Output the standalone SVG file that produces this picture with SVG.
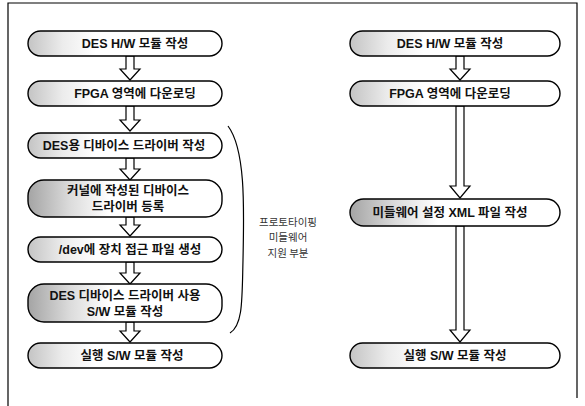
<svg xmlns="http://www.w3.org/2000/svg" width="585" height="406" viewBox="0 0 585 406">
<defs>
<linearGradient id="g1" x1="0" y1="0" x2="1" y2="0">
<stop offset="0" stop-color="#c4c4c4"/>
<stop offset="0.18" stop-color="#ececec"/>
<stop offset="0.35" stop-color="#ffffff"/>
</linearGradient>
<linearGradient id="g2" x1="0" y1="0" x2="1" y2="0">
<stop offset="0" stop-color="#a4a4a4"/>
<stop offset="0.22" stop-color="#dcdcdc"/>
<stop offset="0.42" stop-color="#ffffff"/>
</linearGradient>
</defs>
<style>
.n{fill:url(#g1);stroke:#000;stroke-width:1.4}
.d{fill:url(#g2);stroke:#000;stroke-width:1.4}
.t{font-family:"Liberation Sans","Noto Sans CJK KR",sans-serif;font-size:12.5px;font-weight:bold;fill:#111;text-anchor:middle;dominant-baseline:central}
.s{font-family:"Noto Sans CJK KR",sans-serif;font-size:10.5px;fill:#333;text-anchor:middle;dominant-baseline:central}
.a{fill:#fff;stroke:#000;stroke-width:1.2;stroke-linejoin:miter}
.f{fill:none;stroke:#000;stroke-width:1.2}
</style>
<rect width="585" height="406" fill="#fff"/>
<path class="f" d="M8,406 L8,3 L577,3 L577,398"/>
<g id="connectors">
<path class="a" d="M126,56 L126,69 L120,69 L130,80 L140,69 L134,69 L134,56 Z"/>
<path class="a" d="M126,106 L126,120 L120,120 L130,131 L140,120 L134,120 L134,106 Z"/>
<path class="a" d="M126,158 L126,169 L120,169 L130,180 L140,169 L134,169 L134,158 Z"/>
<path class="a" d="M126,217 L126,225 L120,225 L130,236 L140,225 L134,225 L134,217 Z"/>
<path class="a" d="M126,262 L126,273 L120,273 L130,284 L140,273 L134,273 L134,262 Z"/>
<path class="a" d="M126,322 L126,331 L120,331 L130,342 L140,331 L134,331 L134,322 Z"/>
<path class="a" d="M456,56 L456,69 L450,69 L460,80 L470,69 L464,69 L464,56 Z"/>
<path class="a" d="M456,106 L456,186 L450,186 L460,198 L470,186 L464,186 L464,106 Z"/>
<path class="a" d="M456,226 L456,330 L450,330 L460,342 L470,330 L464,330 L464,226 Z"/>
</g>
<g id="bracket">
<path class="f" d="M228,126 C246,150 244,210 243,260 C242,300 243,325 230,333"/>
<text class="s" x="288" y="221">프로토타이핑</text>
<text class="s" x="288" y="236">미들웨어</text>
<text class="s" x="288" y="252">지원 부분</text>
</g>
<g id="n1"><rect class="n" x="28" y="31" width="194" height="25" rx="12.5"/><text class="t" x="135" y="43.5">DES H/W 모듈 작성</text></g>
<g id="n2"><rect class="n" x="28" y="81" width="194" height="25" rx="12.5"/><text class="t" x="135" y="93.5">FPGA 영역에 다운로딩</text></g>
<g id="n3"><rect class="n" x="28" y="133" width="194" height="25" rx="12.5"/><text class="t" x="124" y="145.5">DES용 디바이스 드라이버 작성</text></g>
<g id="n4"><rect class="d" x="28" y="180" width="194" height="37" rx="16"/><text class="t" x="128" y="191">커널에 작성된 디바이스</text><text class="t" x="128" y="207">드라이버 등록</text></g>
<g id="n5"><rect class="n" x="28" y="237" width="194" height="25" rx="12.5"/><text class="t" x="130" y="249.5">/dev에 장치 접근 파일 생성</text></g>
<g id="n6"><rect class="d" x="28" y="284" width="194" height="38" rx="16"/><text class="t" x="125" y="296">DES 디바이스 드라이버 사용</text><text class="t" x="125" y="312">S/W 모듈 작성</text></g>
<g id="n7"><rect class="n" x="28" y="343" width="194" height="25" rx="12.5"/><text class="t" x="132" y="355.5">실행 S/W 모듈 작성</text></g>
<g id="r1"><rect class="n" x="350" y="31" width="210" height="25" rx="12.5"/><text class="t" x="450" y="43.5">DES H/W 모듈 작성</text></g>
<g id="r2"><rect class="n" x="350" y="81" width="210" height="25" rx="12.5"/><text class="t" x="450" y="93.5">FPGA 영역에 다운로딩</text></g>
<g id="r3"><rect class="d" x="350" y="199" width="210" height="27" rx="13.5"/><text class="t" x="450" y="212.5">미들웨어 설정 XML 파일 작성</text></g>
<g id="r4"><rect class="n" x="350" y="343" width="210" height="25" rx="12.5"/><text class="t" x="455" y="355.5">실행 S/W 모듈 작성</text></g>
</svg>
